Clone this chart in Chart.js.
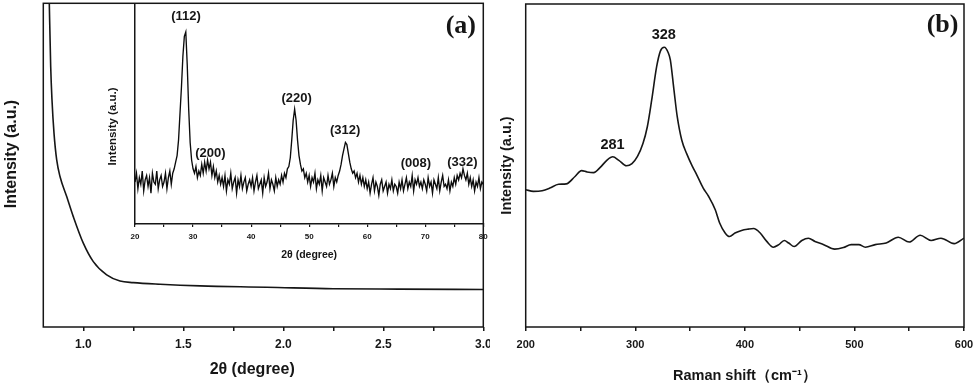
<!DOCTYPE html>
<html><head><meta charset="utf-8">
<script src="https://cdn.jsdelivr.net/npm/chart.js@4.4.1/dist/chart.umd.min.js"></script>
<style>
html,body{margin:0;padding:0;background:#fff;width:980px;height:385px;overflow:hidden;}
canvas{position:absolute;}
#cA{left:0;top:0;}
#cB{left:490px;top:0;}
#cIn{left:100px;top:0;}
</style></head><body>
<canvas id="cA" width="490" height="385"></canvas>
<canvas id="cB" width="490" height="385"></canvas>
<canvas id="cIn" width="390" height="270"></canvas>
<script>
// ---------- data: panel (a) main curve (low-angle scan) ----------
const saxsAngle = [0.825, 0.830, 0.837, 0.8435, 0.8535, 0.867, 0.8835, 0.917, 0.95, 1.0, 1.05, 1.117, 1.1835, 1.25, 1.3835, 1.585, 1.917, 2.25, 2.58, 3.0];
const saxsIntensity = [115, 100, 80.4, 70.1, 59.9, 51.6, 46.5, 40.3, 34.1, 25.9, 20.2, 16.1, 14.2, 13.7, 13.2, 12.7, 12.3, 11.8, 11.7, 11.6];
const saxsMajorTicks = [1.0, 1.5, 2.0, 2.5, 3.0];
const saxsMinorTicks = [1.25, 1.75, 2.25, 2.75];

// ---------- data: panel (a) inset (wide-angle XRD, 0.25 deg sampling) ----------
const xrdStart = 20, xrdStep = 0.25;
const xrdIntensity = [
  19,23,16,21,18,24,15,20,22,17,21,14,23,19,18,24,16,20,22,17,
  19,23,16,21,24,18,23,25,28,31,38,50,62,76,85,87,72,52,37,29,
  25,23,26,21,24,22,27,23,28,24,29,25,28,22,26,21,24,19,22,18,
  21,17,22,15,20,18,23,16,19,21,14,20,17,22,16,19,21,15,18,20,
  17,21,15,19,22,16,18,20,14,21,17,19,23,16,20,18,15,21,17,20,
  18,22,19,23,21,25,26,30,38,47,52,47,38,31,27,24,25,21,23,19,
  22,17,21,19,23,16,20,18,22,15,21,19,17,22,18,20,23,17,21,19,
  22,24,27,31,34,37,36,32,28,25,23,24,21,23,19,22,18,21,17,20,
  16,19,14,18,21,15,19,17,13,18,20,15,17,19,14,18,16,20,15,18,
  17,14,19,16,20,15,18,21,16,19,17,22,15,20,18,21,17,19,16,20,
  18,15,21,17,19,14,20,18,16,21,15,19,22,17,18,16,20,15,19,17,
  21,18,22,20,23,21,25,22,20,23,18,21,17,20,15,19,17,21,16,19,
  18
];
const xrdMajorTicks = [20, 30, 40, 50, 60, 70, 80];
const xrdMinorTicks = [25, 35, 45, 55, 65, 75];
const xrdPeakLabels = ['(112)', '(200)', '(220)', '(312)', '(008)', '(332)'];
const xrdPeakLabelAngle = [28.8, 33.0, 47.85, 56.2, 68.4, 76.4];
const xrdPeakLabelLevel = [93.9, 32.2, 57.1, 42.6, 27.6, 28.1];

// ---------- data: panel (b) Raman ----------
const ramanShift = [200,207,215,222,230,237,245,251,256,262,268,274,279.5,285,292,297,302,307,311,315,319.5,323,326.5,330,332,335.3,338.3,342.4,347,352,356,362,367,373,377,382,386,391,397,403,408,414,420,426,431,436,440,445,452,458,464,472,482,490,497,504,510,519,529,540,550,560,570,579,591,600];
const ramanIntensity = [42.5,42.0,42.2,43.0,44.2,44.3,46.6,48.4,48.0,47.8,49.4,51.6,52.7,51.6,49.9,50.6,52.8,56.8,62,70.3,80.6,85.5,86.6,85,82.7,73.4,65.1,57.9,53.6,49.8,47.2,43,40.4,36.3,32.2,29.1,28,29.1,29.9,30.3,30.5,29.1,26.5,24.7,25.5,26.8,26,24.9,26.8,27.5,26.5,25.5,24.1,24.6,25.5,25.5,24.7,25.5,26,27.8,26.3,28.4,26.8,27.5,25.8,27.5];
const ramanMajorTicks = [200, 300, 400, 500, 600];
const ramanMinorTicks = [250, 350, 450, 550];
const ramanPeakLabels = ['328', '281'];
const ramanPeakLabelShift = [326, 279.2];
const ramanPeakLabelLevel = [90.4, 56.3];

// ---------- styling ----------
const INK = '#161616';
const SANS = "'Liberation Sans', Arial, Helvetica, sans-serif";
const SERIF = "'Liberation Serif', 'Times New Roman', serif";
Chart.defaults.font.family = SANS;
Chart.defaults.font.weight = 'bold';
Chart.defaults.color = INK;
Chart.defaults.animation = false;

const framePlugin = {
  id: 'frame',
  afterDraw(chart, args, opts) {
    if (!opts.show) return;
    const a = chart.chartArea, ctx = chart.ctx;
    ctx.save();
    ctx.strokeStyle = INK; ctx.lineWidth = opts.width || 1.5;
    ctx.strokeRect(a.left, a.top, a.right - a.left, a.bottom - a.top);
    ctx.restore();
  }
};
const textPlugin = {
  id: 'peakText',
  afterDatasetsDraw(chart, args, opts) {
    const ctx = chart.ctx, xs = chart.scales.x, ys = chart.scales.y;
    ctx.save();
    ctx.textAlign = 'center'; ctx.textBaseline = 'middle'; ctx.fillStyle = INK;
    (opts.items || []).forEach(it => {
      ctx.font = it.font;
      ctx.fillText(it.text, xs.getPixelForValue(it.x), ys.getPixelForValue(it.y));
    });
    ctx.restore();
  }
};

function xScale(o) {
  return {
    type: 'linear', position: 'bottom', min: o.min, max: o.max,
    afterBuildTicks(s) { s.ticks = o.majors.concat(o.minors).sort((a, b) => a - b).map(v => ({ value: v })); },
    afterFit(s) { s.height = o.height; s.paddingLeft = 0; s.paddingRight = 0; },
    ticks: {
      autoSkip: false, maxRotation: 0, padding: o.tickPad, color: INK,
      font: { size: o.tickSize, weight: 'bold', family: SANS },
      callback: v => o.majors.includes(v) ? v.toFixed(o.decimals) : ''
    },
    grid: { display: true, drawOnChartArea: false, drawTicks: true, tickLength: o.tickLen, color: INK, lineWidth: o.tickWidth || 1.5 },
    border: { display: o.border || false, color: INK, width: 1.5 },
    title: { display: true, text: o.title, color: INK, font: { size: o.titleSize, weight: 'bold', family: SANS }, padding: { top: 0, bottom: o.titlePad } }
  };
}
function yScale(o) {
  return {
    type: 'linear', position: 'left', min: 0, max: 100,
    afterFit(s) { s.width = o.width; s.paddingTop = 0; s.paddingBottom = 0; },
    ticks: { display: false },
    grid: { display: false },
    border: { display: o.border || false, color: INK, width: 1.5 },
    title: { display: true, text: o.title, color: INK, font: { size: o.titleSize, weight: 'bold', family: SANS }, padding: { top: o.titlePad, bottom: 0 } }
  };
}
const baseOpts = { responsive: false, events: [], animation: false };

// ---------- panel (a) main ----------
new Chart(document.getElementById('cA'), {
  type: 'line',
  data: { datasets: [{ data: saxsAngle.map((a, i) => ({ x: a, y: saxsIntensity[i] })), borderColor: INK, borderWidth: 1.6, pointRadius: 0, cubicInterpolationMode: 'monotone', fill: false }] },
  options: Object.assign({}, baseOpts, {
    layout: { padding: { left: 0, top: 3.3, right: 6.7, bottom: 0 } },
    plugins: {
      legend: { display: false }, tooltip: { enabled: false },
      frame: { show: true, width: 1.5 },
      peakText: { items: [{ text: '(a)', x: 2.8875, y: 92.8, font: 'bold 26px ' + SERIF }] }
    },
    scales: {
      x: xScale({ min: 0.8, max: 3.0, majors: saxsMajorTicks, minors: saxsMinorTicks, decimals: 1, height: 58, tickPad: 6, tickLen: 4, tickSize: 12, title: '2θ (degree)     ', titleSize: 16, titlePad: 5.4 }),
      y: yScale({ width: 43.3, title: '     Intensity (a.u.)', titleSize: 16, titlePad: 2.4 })
    }
  }),
  plugins: [framePlugin, textPlugin]
});

// ---------- panel (a) inset ----------
new Chart(document.getElementById('cIn'), {
  type: 'line',
  data: { datasets: [{ data: xrdIntensity.map((v, i) => ({ x: xrdStart + i * xrdStep, y: v })), borderColor: '#0c0c0c', borderWidth: 1.35, pointRadius: 0, tension: 0, fill: false }] },
  options: Object.assign({}, baseOpts, {
    layout: { padding: { left: 0, top: 3.3, right: 6.7, bottom: 0 } },
    plugins: {
      legend: { display: false }, tooltip: { enabled: false },
      frame: { show: false },
      peakText: { items: xrdPeakLabels.map((t, i) => ({ text: t, x: xrdPeakLabelAngle[i], y: xrdPeakLabelLevel[i], font: 'bold 13px ' + SANS })) }
    },
    scales: {
      x: xScale({ min: 20, max: 80, majors: xrdMajorTicks, minors: xrdMinorTicks, decimals: 0, height: 46, tickPad: 5, tickLen: 3, tickWidth: 1.2, tickSize: 8, title: '2θ (degree)', titleSize: 10.5, titlePad: 8.7, border: true }),
      y: yScale({ width: 35, title: 'Intensity (a.u.)        ', titleSize: 11.5, titlePad: 6.1, border: true })
    }
  }),
  plugins: [framePlugin, textPlugin]
});

// ---------- panel (b) ----------
new Chart(document.getElementById('cB'), {
  type: 'line',
  data: { datasets: [{ data: ramanShift.map((s, i) => ({ x: s, y: ramanIntensity[i] })), borderColor: INK, borderWidth: 1.6, pointRadius: 0, cubicInterpolationMode: 'monotone', fill: false }] },
  options: Object.assign({}, baseOpts, {
    layout: { padding: { left: 0, top: 4, right: 16, bottom: 0 } },
    plugins: {
      legend: { display: false }, tooltip: { enabled: false },
      frame: { show: true, width: 1.5 },
      peakText: { items: ramanPeakLabels.map((t, i) => ({ text: t, x: ramanPeakLabelShift[i], y: ramanPeakLabelLevel[i], font: 'bold 14.5px ' + SANS }))
        .concat([{ text: '(b)', x: 580.4, y: 93.3, font: 'bold 26px ' + SERIF }]) }
    },
    scales: {
      x: xScale({ min: 200, max: 600, majors: ramanMajorTicks, minors: ramanMinorTicks, decimals: 0, height: 58, tickPad: 7, tickLen: 4, tickSize: 11, title: 'Raman shift（cm⁻¹）', titleSize: 14.5, titlePad: 0.6 }),
      y: yScale({ width: 35.7, title: 'Intensity (a.u.)', titleSize: 14.5, titlePad: 8.6 })
    }
  }),
  plugins: [framePlugin, textPlugin]
});
</script>
</body></html>
